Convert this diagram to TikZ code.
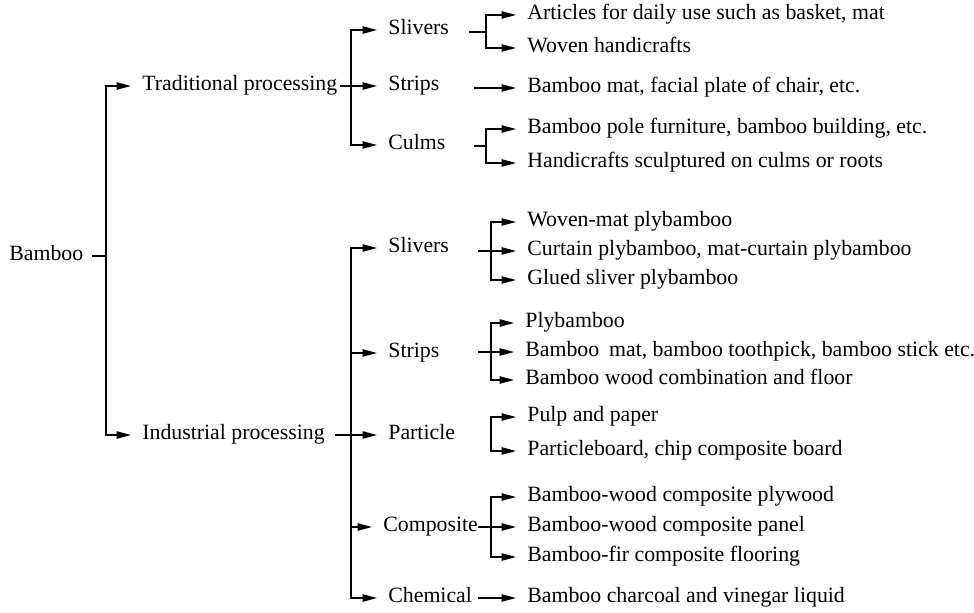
\documentclass[tikz,border=0pt]{standalone}
\usepackage{fontspec}
\setmainfont{Liberation Serif}
\usetikzlibrary{arrows.meta}

\begin{document}
\begin{tikzpicture}[x=0.55pt, y=-0.55pt,
	txt/.style={anchor=west, inner xsep=0pt, inner ysep=0pt, text height=1ex, text depth=0pt, font=\fontsize{12pt}{14pt}\selectfont},
	link/.style={line width=0.9pt},
	arr/.style={link, -{Triangle[length=8pt,width=4pt]}, shorten >=6pt}]
				\useasboundingbox (0,0) rectangle (974,613);
				
				%Level 0
				\node[txt] (bamboo) at (9,256) {Bamboo};
				\coordinate (mj) at (106,256);
				\draw[link, shorten <=4.5pt] (bamboo.east) -- (mj);
				
				%Level 1
				\node[txt] (trad) at (142,86) {Traditional processing};
				\node[txt] (ind) at (142,435) {Industrial processing};
				\draw[arr] (mj) |- (trad.west);
				\draw[arr] (mj) |- (ind.west);
				
				%Level 2, traditional
				\coordinate (tj) at (351,86);
				\node[txt] (tsliv) at (388,30) {Slivers};
				\node[txt] (tstrip) at (388,86) {Strips};
				\node[txt] (tculm) at (388,145) {Culms};
				\draw[arr] (tj) |- (tsliv.west);
				\draw[arr] (tj) |- (tculm.west);
				\draw[arr, shorten <=1.5pt] (trad.east) -- (tstrip.west);
				
				%Level 2, industrial
				\coordinate (ij) at (351,435);
				\node[txt] (isliv) at (388,248) {Slivers};
				\node[txt] (istrip) at (388,353) {Strips};
				\node[txt] (ipart) at (388,435) {Particle};
				\node[txt] (icomp) at (383,527) {Composite};
				\node[txt] (ichem) at (388,598) {Chemical};
				\draw[arr] (ij) |- (isliv.west);
				\draw[arr] (ij) |- (istrip.west);
				\draw[arr] (ij) |- (icomp.west);
				\draw[arr] (ij) |- (ichem.west);
				\draw[arr, shorten <=5.5pt] (ind.east) -- (ipart.west);
				
				%Level 3, traditional
				\node[txt] (t1) at (527,15) {Articles for daily use such as basket, mat};
				\node[txt] (t2) at (527,48) {Woven handicrafts};
				\node[txt] (t3) at (527,88) {Bamboo mat, facial plate of chair, etc.};
				\node[txt] (t4) at (527,129) {Bamboo pole furniture, bamboo building, etc.};
				\node[txt] (t5) at (527,163) {Handicrafts sculptured on culms or roots};
				
				%Lines
				\coordinate (tsliv-s) at (469,32);
				\coordinate (tsliv-j) at (486,32);
				\draw[link] (tsliv-s) -- (tsliv-j);
				\draw[arr] (tsliv-j) |- (t1.west);
				\draw[arr] (tsliv-j) |- (t2.west);
				\coordinate (tstrip-s) at (474,88);
				\draw[arr] (tstrip-s) -- (t3.west);
				\coordinate (tculm-s) at (474,146);
				\coordinate (tculm-j) at (486,146);
				\draw[link] (tculm-s) -- (tculm-j);
				\draw[arr] (tculm-j) |- (t4.west);
				\draw[arr] (tculm-j) |- (t5.west);
				
				%Level 3, industrial
				\node[txt] (i1) at (527,222) {Woven-mat plybamboo};
				\node[txt] (i2) at (527,251) {Curtain plybamboo, mat-curtain plybamboo};
				\node[txt] (i3) at (527,280) {Glued sliver plybamboo};
				\node[txt] (i4) at (525,323) {Plybamboo};
				\node[txt] (i5) at (525,352) {Bamboo\hspace{0.45em}mat, bamboo toothpick, bamboo stick etc.};
				\node[txt] (i6) at (525,380) {Bamboo wood combination and floor};
				\node[txt] (i7) at (527,417) {Pulp and paper};
				\node[txt] (i8) at (527,451) {Particleboard, chip composite board};
				\node[txt] (i9) at (527,497) {Bamboo-wood composite plywood};
				\node[txt] (i10) at (527,527) {Bamboo-wood composite panel};
				\node[txt] (i11) at (527,557) {Bamboo-fir composite flooring};
				\node[txt] (i12) at (527,598) {Bamboo charcoal and vinegar liquid};
				
				%Lines
				\coordinate (isliv-s) at (478,251);
				\coordinate (isliv-j) at (491,251);
				\draw[link] (isliv-s) -- (isliv-j);
				\draw[arr] (isliv-j) |- (i1.west);
				\draw[arr] (isliv-j) -- (i2.west);
				\draw[arr] (isliv-j) |- (i3.west);
				\coordinate (istrip-s) at (478,352);
				\coordinate (istrip-j) at (491,352);
				\draw[link] (istrip-s) -- (istrip-j);
				\draw[arr] (istrip-j) |- (i4.west);
				\draw[arr] (istrip-j) -- (i5.west);
				\draw[arr] (istrip-j) |- (i6.west);
				\coordinate (ipart-j) at (491,434);
				\draw[arr] (ipart-j) |- (i7.west);
				\draw[arr] (ipart-j) |- (i8.west);
				\coordinate (icomp-j) at (491,527);
				\draw[arr] (icomp.east) -- (i10.west);
				\draw[arr] (icomp-j) |- (i9.west);
				\draw[arr] (icomp-j) |- (i11.west);
				\coordinate (ichem-s) at (478,598);
				\draw[arr] (ichem-s) -- (i12.west);
			\end{tikzpicture}
\end{document}
